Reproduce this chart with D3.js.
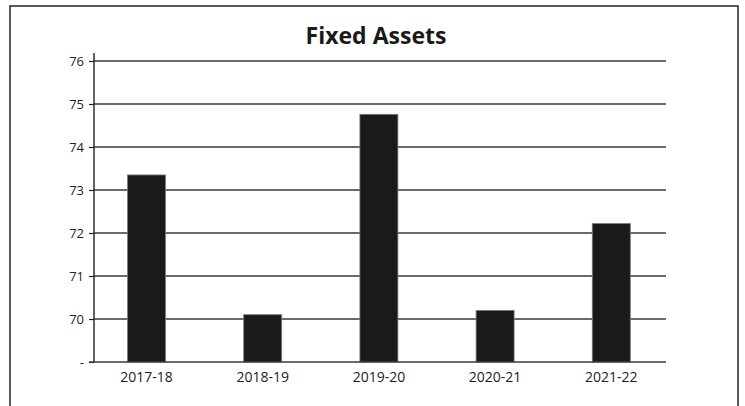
<!DOCTYPE html>
<html>
<head>
<meta charset="utf-8">
<script src="https://cdn.jsdelivr.net/npm/d3@7"></script>
<style>
  html, body { margin: 0; padding: 0; background: #fff; }
  svg { display: block; }
</style>
</head>
<body>
<svg id="chart" width="745" height="406"></svg>
<script>
const title = "Fixed Assets";
const categories = ["2017-18", "2018-19", "2019-20", "2020-21", "2021-22"];
const values = [73.35, 70.1, 74.76, 70.2, 72.22];
const yTicks = [69, 70, 71, 72, 73, 74, 75, 76];
const yTickLabels = ["-", "70", "71", "72", "73", "74", "75", "76"];

const svg = d3.select("#chart");
const W = 745, H = 406;
const plot = { left: 94, right: 666, top: 53, bottom: 362 };

// outer frame
svg.append("rect")
  .attr("x", 10).attr("y", 6)
  .attr("width", 728).attr("height", 420)
  .attr("fill", "none").attr("stroke", "#222").attr("stroke-width", 1.5);

const x = d3.scaleBand()
  .domain(categories)
  .range([88.4, 669.4])
  .paddingInner(0.673)
  .paddingOuter(0.3365);

const y = d3.scaleLinear().domain([69, 76]).range([362, 61]);

// gridlines
svg.append("g").selectAll("line")
  .data(yTicks.filter(t => t > 69))
  .join("line")
  .attr("x1", plot.left).attr("x2", plot.right)
  .attr("y1", d => y(d)).attr("y2", d => y(d))
  .attr("stroke", "#3a3a3a").attr("stroke-width", 1.4);

// bars
svg.append("g").selectAll("rect")
  .data(values)
  .join("rect")
  .attr("x", (d, i) => x(categories[i]))
  .attr("width", x.bandwidth())
  .attr("y", d => y(d))
  .attr("height", d => y(69) - y(d))
  .attr("fill", "#1a1b19")
  .attr("stroke", "#7a7a7a")
  .attr("stroke-width", 0.8);

// y axis
const yAxis = d3.axisLeft(y)
  .tickValues(yTicks)
  .tickFormat((d, i) => yTickLabels[i])
  .tickSize(5)
  .tickPadding(5);
const gy = svg.append("g").attr("transform", `translate(${plot.left},0)`).call(yAxis);
gy.select(".domain").remove();
gy.selectAll(".tick line").attr("stroke", "#222").attr("stroke-width", 1.2);
gy.selectAll(".tick text")
  .attr("font-family", "'Open Sans', sans-serif")
  .attr("font-size", 13).attr("fill", "#222");
svg.append("line")
  .attr("x1", plot.left).attr("x2", plot.left)
  .attr("y1", plot.top).attr("y2", y(69))
  .attr("stroke", "#222").attr("stroke-width", 1.4);

// x axis baseline
svg.append("line")
  .attr("x1", plot.left - 5).attr("x2", plot.right)
  .attr("y1", y(69)).attr("y2", y(69))
  .attr("stroke", "#3a3a3a").attr("stroke-width", 1.4);

// x labels
const xAxis = d3.axisBottom(x).tickSize(0).tickPadding(10);
const gx = svg.append("g").attr("transform", `translate(0,${y(69)})`).call(xAxis);
gx.select(".domain").remove();
gx.selectAll(".tick text")
  .attr("font-family", "'Open Sans', sans-serif")
  .attr("font-size", 14).attr("fill", "#222");

// title
svg.append("text")
  .attr("x", 376).attr("y", 44)
  .attr("text-anchor", "middle")
  .attr("font-family", "'Open Sans', sans-serif")
  .attr("font-weight", "bold")
  .attr("font-size", 23)
  .attr("fill", "#1a1a1a")
  .text(title);
</script>
</body>
</html>
